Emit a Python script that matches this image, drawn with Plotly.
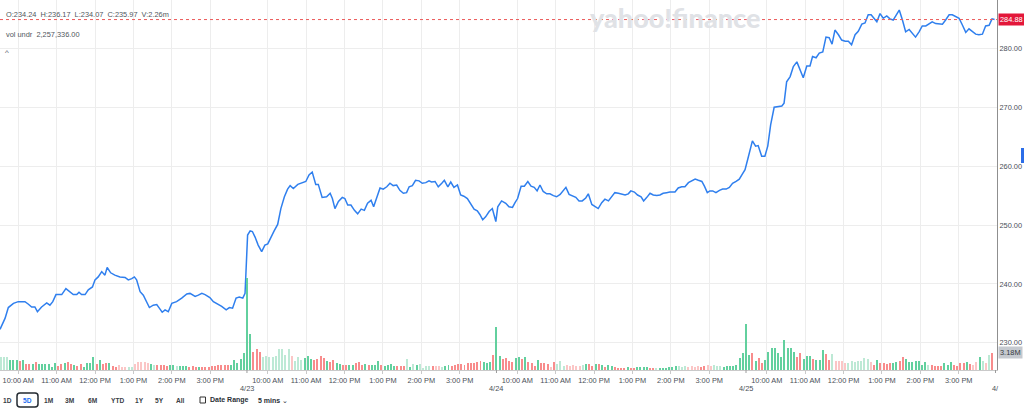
import plotly.graph_objects as go

# ---------------- data ----------------
BARS_PER_DAY = 78                      # 5-minute bars, 9:30 -> 16:00
boundary_labels = ["4/23", "4/24", "4/25", "4/"]
hour_labels = ["10:00 AM", "11:00 AM", "12:00 PM", "1:00 PM", "2:00 PM", "3:00 PM"]
hour_minutes = [600, 660, 720, 780, 840, 900]   # minutes after midnight
OPEN_MINUTES = 570

# price line: position in 5-minute bars since 4/22 open, and price
price_bar_4_22 = [0.8, 2.4, 3.4, 5.0, 6.5, 8.6, 9.6, 10.7, 11.7, 12.5, 13.8, 15.4, 16.4, 17.3, 18.3, 20.1, 21.4,
                  22.7, 23.7, 24.8, 25.5, 26.3, 27.4, 28.4, 29.7, 30.5, 31.5, 32.6, 33.6, 34.3, 35.4, 36.7, 38.3,
                  39.9, 40.9, 42.0, 42.8, 43.5, 44.6, 45.6, 46.7, 47.5, 48.7, 49.8, 50.6, 51.5, 52.4, 53.4, 54.5,
                  56.0, 57.6, 59.2, 60.2, 61.8, 62.8, 63.9, 64.9, 66.4, 67.5, 69.0, 70.1, 71.5, 72.5, 73.5, 74.6,
                  75.6, 76.7, 77.4]
price_4_22 = [232.3, 234.2, 236.0, 236.7, 237.0, 237.0, 236.6, 236.1, 236.1, 235.3, 236.1, 236.8, 236.4, 237.0,
              238.2, 238.2, 239.2, 238.7, 238.2, 238.2, 238.6, 238.2, 238.2, 239.0, 239.5, 240.7, 241.2, 242.1,
              241.5, 242.8, 241.9, 241.5, 241.2, 241.1, 240.7, 240.9, 241.2, 240.7, 238.7, 238.1, 236.7, 236.0,
              236.4, 236.5, 235.9, 235.2, 235.6, 235.3, 236.7, 237.0, 237.6, 238.3, 238.4, 237.9, 238.1, 238.4,
              238.2, 237.7, 237.0, 236.6, 236.2, 235.6, 236.0, 235.9, 237.6, 237.8, 237.6, 238.4]

price_bar_4_23 = [78.2, 79.0, 79.7, 80.5, 81.5, 82.6, 83.6, 84.5, 85.5, 86.5, 87.6, 88.6, 89.7, 90.7, 91.5, 92.5,
                  93.9, 95.3, 96.4, 97.4, 98.4, 99.5, 100.3, 101.5, 102.9, 104.0, 104.7, 105.5, 106.6, 107.8,
                  108.6, 109.5, 110.5, 111.6, 112.6, 113.7, 114.7, 115.7, 116.8, 117.6, 118.6, 119.6, 120.6,
                  121.7, 122.7, 123.7, 124.8, 125.8, 126.9, 127.9, 128.7, 129.7, 130.7, 131.8, 132.8, 133.9,
                  134.9, 135.7, 136.8, 137.8, 138.9, 139.7, 140.8, 141.7, 142.7, 143.8, 144.8, 145.8, 146.9,
                  147.9, 149.0, 150.0, 150.8, 151.7, 152.6, 153.7, 154.7, 155.8]
price_4_23 = [248.3, 249.0, 248.9, 248.0, 246.6, 245.5, 246.6, 246.8, 248.0, 249.0, 250.1, 252.8, 254.8, 256.1,
              256.7, 256.2, 256.9, 257.2, 257.4, 258.5, 259.0, 256.9, 256.9, 254.7, 254.8, 255.4, 254.5, 252.8,
              254.0, 254.7, 254.5, 253.4, 253.4, 252.5, 251.9, 252.7, 252.5, 253.7, 254.2, 253.1, 254.8, 256.3,
              256.1, 256.5, 257.1, 256.7, 256.8, 255.9, 255.4, 255.5, 256.5, 256.7, 257.6, 257.5, 257.1, 257.2,
              257.5, 257.3, 257.4, 256.5, 257.1, 257.6, 256.5, 257.3, 256.4, 256.8, 255.1, 254.9, 254.5, 253.7,
              252.7, 252.4, 251.8, 250.9, 251.4, 252.3, 252.8, 250.6]

price_bar_4_24 = [156.4, 157.6, 158.9, 159.9, 161.0, 161.8, 162.6, 163.7, 164.7, 165.8, 166.8, 167.8, 168.7,
                  169.6, 170.6, 171.7, 172.7, 173.8, 174.8, 175.9, 176.9, 177.7, 178.7, 179.7, 180.8, 181.8,
                  182.8, 183.9, 184.7, 185.8, 186.8, 187.8, 188.9, 189.9, 191.0, 192.0, 193.0, 194.1, 195.1,
                  196.2, 197.2, 198.0, 199.1, 200.1, 201.2, 202.0, 203.0, 204.0, 205.0, 206.1, 207.1, 208.1,
                  209.2, 210.2, 211.8, 212.8, 213.9, 214.9, 216.0, 217.0, 218.1, 219.1, 220.2, 221.0, 221.9,
                  222.7, 223.6, 224.6, 225.7, 226.7, 227.8, 228.8, 229.8, 230.9, 231.9, 232.8, 233.7]
price_4_24 = [253.1, 254.1, 253.7, 253.1, 253.0, 253.8, 254.5, 256.6, 256.6, 257.4, 256.6, 256.4, 255.8, 256.8,
              255.7, 255.3, 255.3, 255.0, 254.8, 255.2, 255.9, 256.4, 255.2, 254.9, 254.7, 254.1, 254.1, 254.6,
              255.3, 253.5, 253.2, 252.8, 253.8, 254.4, 254.1, 254.8, 255.5, 255.4, 255.2, 255.1, 255.3, 255.8,
              255.6, 255.1, 254.8, 254.1, 254.7, 255.4, 255.1, 255.0, 255.1, 255.4, 255.5, 255.6, 255.6, 256.3,
              256.5, 256.5, 257.2, 257.5, 257.8, 257.6, 257.4, 256.6, 255.5, 255.8, 255.8, 255.5, 255.9, 256.1,
              256.1, 256.4, 257.1, 257.4, 257.8, 258.6, 259.4]

price_bar_4_25 = [234.6, 236.0, 237.0, 237.8, 238.9, 239.9, 240.8, 241.7, 242.8, 244.1, 245.2, 245.9, 246.7,
                  247.8, 248.8, 249.9, 250.9, 251.9, 253.0, 254.0, 254.8, 255.9, 256.9, 258.0, 259.0, 260.0,
                  260.9, 261.8, 262.9, 263.9, 265.0, 266.0, 267.0, 268.1, 269.1, 270.2, 271.2, 272.2, 273.1,
                  274.1, 274.9, 275.9, 276.9, 278.0, 279.0, 280.0, 281.1, 281.9, 282.9, 283.9, 285.0, 286.0,
                  287.0, 288.1, 289.1, 290.2, 291.2, 292.2, 293.3, 294.3, 295.4, 296.4, 297.5, 298.5, 299.5,
                  300.6, 301.6, 302.7, 303.7, 304.7, 305.8, 306.8, 307.9, 308.9, 310.0, 310.9, 311.7]
price_4_25 = [261.3, 264.3, 263.4, 263.5, 261.7, 261.7, 263.4, 267.0, 270.0, 270.1, 270.2, 270.7, 274.3, 275.2,
              276.9, 277.7, 276.2, 275.0, 277.0, 277.0, 278.6, 278.4, 279.2, 279.4, 281.9, 281.8, 280.7, 283.1,
              282.3, 281.4, 281.2, 281.2, 280.6, 282.3, 282.9, 284.1, 284.3, 285.7, 285.7, 285.0, 284.5, 285.9,
              285.1, 285.5, 285.0, 284.8, 285.8, 286.5, 284.8, 282.8, 283.2, 282.6, 281.9, 282.8, 283.8, 283.8,
              284.2, 284.5, 284.2, 284.1, 284.1, 284.8, 285.7, 285.7, 285.4, 285.1, 284.0, 282.7, 283.3, 282.9,
              282.4, 282.3, 282.4, 283.8, 283.9, 285.0, 284.88]

# volume per 5-minute bar (millions of shares)
vol_4_22 = [2.4, 2.4, 2.4, 2.4, 1.8, 1.8, 1.8, 1.6, 1.8, 1.1, 1.1, 1.1, 1.5, 1.1, 1.1, 1.1, 1.1, 0.5, 1.3, 0.7,
            1.1, 1.3, 1.5, 1.1, 0.9, 0.7, 1.1, 0.5, 1.3, 1.3, 2.4, 1.1, 1.8, 1.1, 1.3, 1.3, 0.7, 0.5, 0.9, 0.5,
            0.5, 0.5, 0.5, 1.1, 1.5, 1.5, 1.5, 1.3, 1.1, 0.9, 0.9, 0.9, 0.9, 0.7, 0.9, 0.9, 0.7, 0.7, 0.7, 0.7,
            0.5, 0.7, 0.5, 0.5, 0.5, 0.5, 0.5, 0.7, 0.7, 0.9, 0.9, 0.9, 0.9, 0.9, 1.8, 1.3, 2.0, 3.1]
vol_4_23 = [16.7, 6.6, 3.3, 3.8, 3.3, 2.4, 2.5, 2.4, 2.4, 2.5, 3.8, 3.8, 2.7, 3.8, 2.5, 1.6, 2.4, 1.8, 2.2,
            2.5, 2.0, 1.8, 2.0, 2.5, 2.2, 1.6, 1.5, 1.8, 1.3, 1.1, 0.9, 0.9, 0.9, 0.9, 1.3, 1.5, 0.9, 1.1,
            0.9, 0.9, 0.9, 1.6, 0.9, 0.7, 0.9, 1.1, 0.7, 0.7, 0.7, 0.7, 2.0, 0.5, 1.1, 0.9, 1.1, 0.4, 0.7,
            0.7, 0.7, 0.7, 0.7, 0.5, 0.7, 0.9, 0.7, 0.9, 1.1, 1.1, 0.9, 1.3, 1.3, 1.3, 1.5, 1.6, 1.5, 1.3,
            1.5, 2.7]
vol_4_24 = [7.8, 2.5, 2.0, 2.2, 1.6, 1.5, 2.2, 2.4, 2.0, 2.4, 1.5, 1.3, 0.7, 1.8, 1.3, 1.3, 1.1, 0.5, 1.5,
            1.1, 1.6, 0.7, 0.9, 0.7, 0.9, 0.7, 0.7, 0.9, 1.1, 1.1, 0.7, 1.1, 1.1, 0.9, 0.5, 0.9, 0.7, 0.5,
            0.4, 0.4, 0.4, 0.5, 0.4, 0.4, 0.5, 0.5, 0.5, 0.5, 0.4, 0.4, 0.4, 0.4, 0.4, 0.4, 0.5, 0.5, 0.7,
            0.7, 0.5, 0.7, 0.5, 0.7, 0.5, 0.7, 0.5, 0.7, 0.9, 0.7, 0.9, 0.7, 0.7, 0.5, 0.7, 0.7, 0.7, 0.9,
            2.2, 3.1]
vol_4_25 = [8.4, 2.7, 3.1, 1.6, 2.2, 1.3, 1.8, 3.3, 4.0, 4.0, 3.1, 2.4, 5.5, 4.0, 4.0, 3.3, 2.4, 3.1, 2.0,
            2.5, 2.5, 2.0, 1.8, 1.8, 3.6, 2.9, 1.8, 2.9, 1.6, 1.6, 1.6, 1.3, 1.3, 1.6, 1.5, 1.6, 1.6, 2.2,
            2.0, 1.5, 0.9, 1.8, 1.3, 1.3, 1.1, 1.3, 1.3, 1.5, 1.6, 2.4, 2.0, 1.5, 1.5, 1.6, 1.6, 0.9, 1.5,
            0.9, 0.9, 0.7, 0.7, 0.7, 1.3, 0.9, 1.5, 0.9, 0.7, 1.3, 1.3, 1.5, 1.1, 0.9, 1.5, 2.4, 1.6, 1.3,
            2.7, 3.18]

# bar shade: G = up, R = down, g / r = faded up / down
shade_4_22 = "g" + "ggg" + "GGG" + "R" + "G" + "RR" + "G" + "R" + "GGGGGG" + "RR" + "G" + "RR" + "G" + "RR" + \
             "GGGG" + "R" + "G" + "RR" + "G" + "RR" + "rrr" + "gg" + "rrrrr" + "G" + "g" + "RRRR" + "GG" + "g" + \
             "GGG" + "RRR" + "G" + "RRRRRRRRR" + "GGGGG"
shade_4_23 = "GG" + "RRR" + "ggggggggg" + "r" + "ggg" + "GGG" + "RRRR" + "G" + "RR" + "GG" + "RR" + "GG" + "RRR" + \
             "G" + "R" + "GGG" + "R" + "GGGG" + "RRR" + "g" + "G" + "g" + "G" + "gggg" + "R" + "rr" + "g" + "GG" + \
             "RRRRRRRRRR" + "GGG" + "R"
shade_4_24 = "GG" + "RRRR" + "GG" + "R" + "G" + "RRR" + "G" + "RRR" + "r" + "R" + "ggg" + "rrrrr" + "g" + "G" + "RR" + \
             "G" + "R" + "G" + "R" + "GG" + "RRRR" + "G" + "RR" + "GGGG" + "RR" + "g" + "GGGGGG" + "ggg" + "rrrr" + \
             "RR" + "rr" + "ggg" + "GGGGGGG"
shade_4_25 = "GG" + "R" + "G" + "RR" + "GGGGGGGGGG" + "RR" + "GGG" + "R" + "GGG" + "RR" + "g" + "rrrr" + "ggggggg" + \
             "r" + "R" + "G" + "RRRR" + "GG" + "RR" + "GGGGGGG" + "g" + "RRRR" + "GGG" + "RRRR" + "G" + "R" + "rr" + \
             "G" + "g" + "r" + "g" + "R"

last_price = 284.88
last_volume_label = "3.18M"
y_ticks = [230, 240, 250, 260, 270, 280]
header_ohlc = ["O:234.24", "H:236.17", "L:234.07", "C:235.97", "V:2.26m"]
header_vol = "vol undr\u00a0\u00a02,257,336.00"
range_buttons = ["1D", "5D", "1M", "3M", "6M", "YTD", "1Y", "5Y", "All"]
selected_button = "5D"

# ---------------- figure ----------------
W, H = 1024, 409
ML, MR, MT, MB = 0, 27, 0, 39
FONT = "Liberation Sans"

price_x = price_bar_4_22 + price_bar_4_23 + price_bar_4_24 + price_bar_4_25
price_y = price_4_22 + price_4_23 + price_4_24 + price_4_25
vol = vol_4_22 + vol_4_23 + vol_4_24 + vol_4_25
shade = shade_4_22 + shade_4_23 + shade_4_24 + shade_4_25
vol_x = list(range(len(vol)))
shade_colors = {"G": "#62d09e", "g": "#bde9d5", "R": "#f88c8c", "r": "#fbc6c6"}
bar_colors = [shade_colors[c] for c in shade]

n_days = len(boundary_labels)
hour_ticks, hour_text = [], []
for d in range(n_days):
    for m, lab in zip(hour_minutes, hour_labels):
        hour_ticks.append(d * BARS_PER_DAY + (m - OPEN_MINUTES) / 5 + 0.5)
        hour_text.append(lab)
boundaries = [(d + 1) * BARS_PER_DAY for d in range(n_days)]

fig = go.Figure()
fig.add_trace(go.Bar(x=vol_x, y=vol, marker=dict(color=bar_colors, line=dict(width=0)),
                     width=0.62, yaxis="y2", hoverinfo="skip"))
fig.add_trace(go.Scatter(x=price_x, y=price_y, mode="lines",
                         line=dict(color="#2f7fee", width=1.5), hoverinfo="skip"))

tick_font = dict(family=FONT, size=7.4, color="#4a5058")
fig.update_layout(
    width=W, height=H, autosize=False,
    margin=dict(l=ML, r=MR, t=MT, b=MB, pad=0),
    paper_bgcolor="white", plot_bgcolor="white",
    showlegend=False, bargap=0,
    xaxis=dict(range=[0.8, 312.46], tickmode="array", tickvals=hour_ticks, ticktext=hour_text,
               showgrid=True, gridcolor="#ededed", gridwidth=1, zeroline=False,
               ticks="outside", ticklen=3, tickcolor="#c9c9c9", tickwidth=1,
               showline=True, linecolor="#c9c9c9", linewidth=1, tickfont=tick_font, fixedrange=True),
    yaxis=dict(side="right", range=[225.4, 288.2], tickmode="array", tickvals=y_ticks, tickformat=".2f",
               showgrid=True, gridcolor="#ededed", gridwidth=1, zeroline=False, ticks="",
               showline=True, linecolor="#8f8f8f", linewidth=1, tickfont=tick_font, fixedrange=True),
    yaxis2=dict(overlaying="y", range=[0, 67.3], visible=False, fixedrange=True),
)

shapes = []
# last price dashed line
shapes.append(dict(type="line", xref="paper", x0=0, x1=1, yref="y", y0=last_price, y1=last_price,
                   line=dict(color="#ec5a5a", width=1, dash="3px,3px"), layer="above"))
# dotted day-boundary ticks
for b in boundaries:
    shapes.append(dict(type="line", xref="x", x0=b, x1=b, yref="paper", ysizemode="pixel", yanchor=0,
                       y0=0, y1=-6, line=dict(color="#9a9a9a", width=1, dash="dot")))
# blue marker clipped at right edge
shapes.append(dict(type="rect", xref="paper", xsizemode="pixel", xanchor=1, x0=24, x1=30,
                   yref="paper", ysizemode="pixel", yanchor=1, y0=-148, y1=-163,
                   fillcolor="#2b6de8", line=dict(width=0)))
# selected range button box
shapes.append(dict(type="path", xref="paper", xsizemode="pixel", xanchor=0,
                   yref="paper", ysizemode="pixel", yanchor=0,
                   path="M 20,-23 L 35,-23 Q 38,-23 38,-26 L 38,-34 Q 38,-37 35,-37 L 20,-37 "
                        "Q 17,-37 17,-34 L 17,-26 Q 17,-23 20,-23 Z",
                   line=dict(color="#232a31", width=1.5), fillcolor="white"))
# calendar icon
shapes.append(dict(type="rect", xref="paper", xsizemode="pixel", xanchor=0, x0=200, x1=205.5,
                   yref="paper", ysizemode="pixel", yanchor=0, y0=-27, y1=-33,
                   line=dict(color="#333", width=1), fillcolor="white"))
fig.update_layout(shapes=shapes)

ann = []
# watermark
ann.append(dict(text="yahoo!finance", xref="paper", yref="paper", x=0, y=1, xshift=675, yshift=0,
                xanchor="center", yanchor="top", showarrow=False, borderpad=0,
                font=dict(family="Lato", size=27, color="#e0e2e6", weight=900)))
# header
ann.append(dict(text="\u00a0\u00a0".join(header_ohlc), xref="paper", yref="paper", x=0, y=1, xshift=4,
                yshift=-14, xanchor="left", yanchor="middle", showarrow=False,
                font=dict(family=FONT, size=7.4, color="#50565d")))
ann.append(dict(text=header_vol, xref="paper", yref="paper", x=0, y=1, xshift=4, yshift=-34,
                xanchor="left", yanchor="middle", showarrow=False,
                font=dict(family=FONT, size=7.4, color="#50565d")))
ann.append(dict(text="^", xref="paper", yref="paper", x=0, y=1, xshift=7, yshift=-52,
                xanchor="center", yanchor="middle", showarrow=False,
                font=dict(family=FONT, size=8, color="#50565d")))
# last price and last volume labels
ann.append(dict(text=f"{last_price:.2f}", xref="paper", yref="y", x=1, y=last_price, xshift=1,
                xanchor="left", yanchor="middle", showarrow=False, bgcolor="#e3173a", borderpad=1,
                font=dict(family=FONT, size=7.4, color="white")))
ann.append(dict(text=last_volume_label, xref="paper", yref="y2", x=1, y=vol[-1], xshift=1,
                xanchor="left", yanchor="middle", showarrow=False, bgcolor="#c5c9cf", borderpad=1,
                font=dict(family=FONT, size=7.4, color="#343a40")))
# day labels
for b, lab in zip(boundaries, boundary_labels):
    ann.append(dict(text=lab, xref="x", yref="paper", x=b, y=0, yshift=-18, xanchor="center",
                    yanchor="middle", showarrow=False, font=tick_font))
# range buttons
btn_x = [7, 27.5, 48.5, 70, 92.5, 117, 139, 159.5, 180]
for lab, bx in zip(range_buttons, btn_x):
    sel = lab == selected_button
    ann.append(dict(text=f"<b>{lab}</b>", xref="paper", yref="paper", x=0, y=0, xshift=bx, yshift=-30,
                    xanchor="center", yanchor="middle", showarrow=False,
                    font=dict(family=FONT, size=6.6, color="#1a6cf0" if sel else "#3a4046")))
ann.append(dict(text="<b>Date Range</b>", xref="paper", yref="paper", x=0, y=0, xshift=229, yshift=-30,
                xanchor="center", yanchor="middle", showarrow=False,
                font=dict(family=FONT, size=7, color="#2a3036")))
ann.append(dict(text="<b>5 mins</b> \u2304", xref="paper", yref="paper", x=0, y=0, xshift=273, yshift=-30,
                xanchor="center", yanchor="middle", showarrow=False,
                font=dict(family=FONT, size=7, color="#2a3036")))
fig.update_layout(annotations=ann)

fig.write_html("out.html", config={"displayModeBar": False, "staticPlot": True})
